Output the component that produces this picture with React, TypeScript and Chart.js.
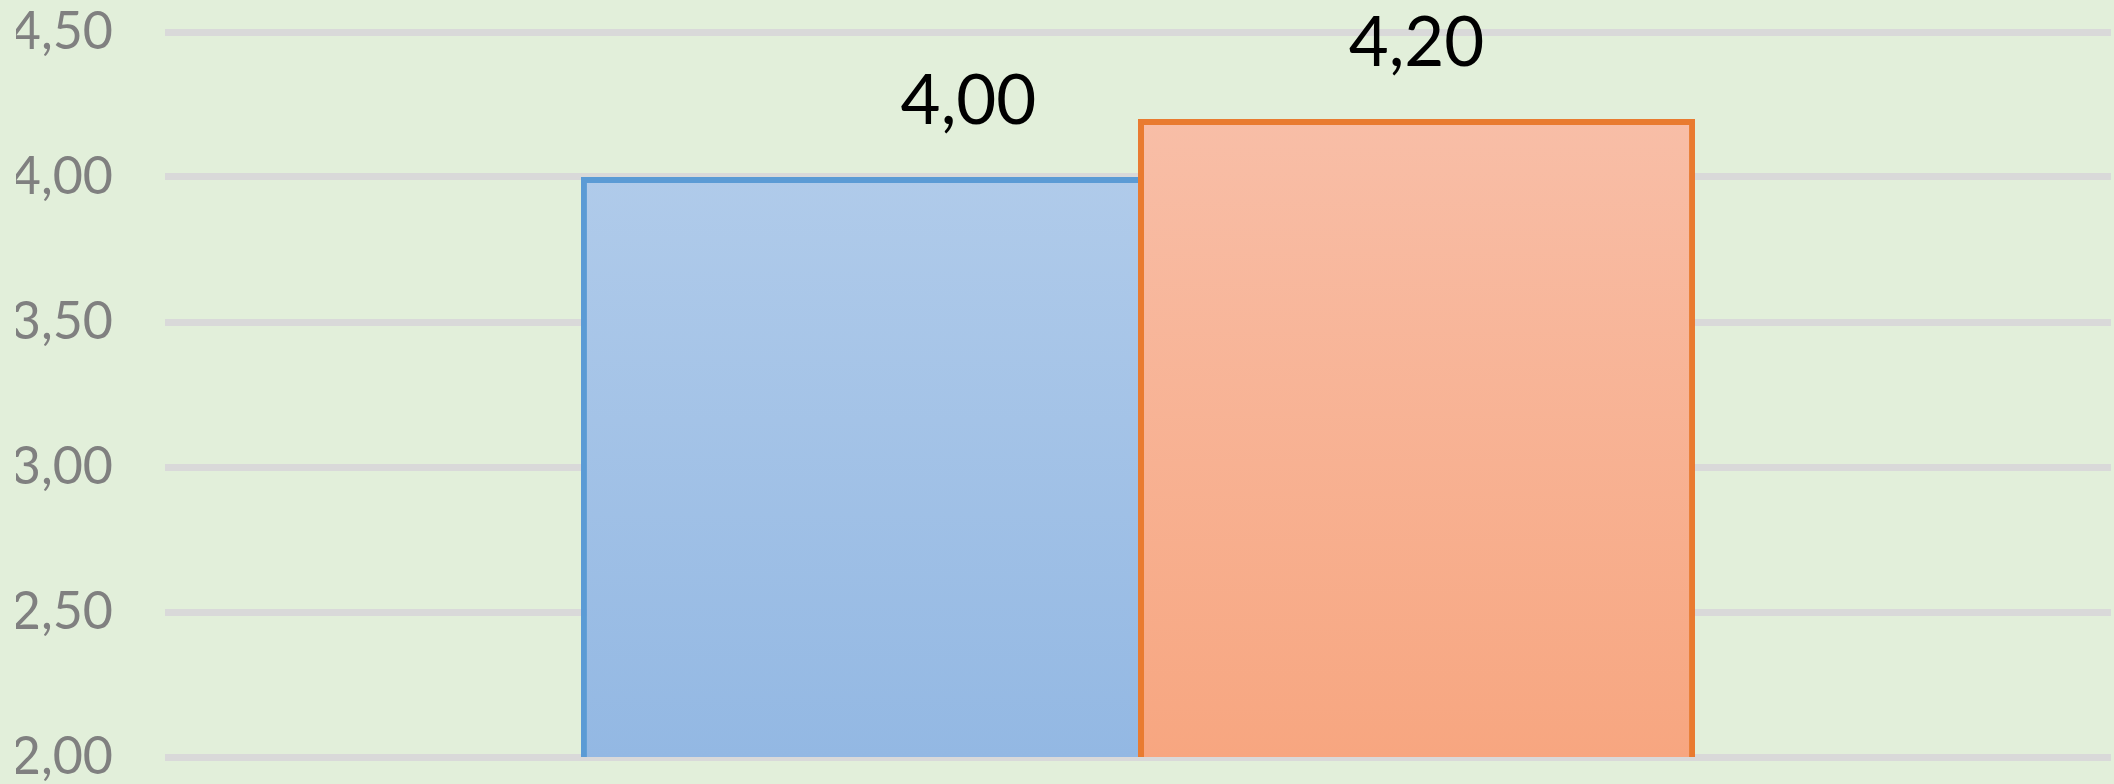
import React, { useEffect, useRef } from "react";
import { Chart, registerables } from "chart.js";

Chart.register(...registerables);

const categories = [""];
const seriesNames = ["Série 1", "Série 2"];
const seriesValues = [[4.0], [4.2]];
const yMin = 2;
const yMax = 4.5;
const yStep = 0.5;

const fills = [
  ["#b0cbea", "#93b8e3"],
  ["#f8bea7", "#f7a680"],
];
const borders = ["#5b9bd5", "#e97b30"];
const labelOffsetX = [109, 0];

const fmt = (v: number) => v.toFixed(2).replace(".", ",");

export default function App() {
  const ref = useRef<HTMLCanvasElement | null>(null);

  useEffect(() => {
    if (!ref.current) return;
    const gradientFor = (i: number) => (ctx: any) => {
      const chart = ctx.chart;
      const area = chart.chartArea;
      if (!area || !chart.scales.y) return fills[i][1];
      const y = chart.scales.y;
      const v = seriesValues[i][ctx.dataIndex ?? 0];
      const top = y.getPixelForValue(v);
      const bottom = y.getPixelForValue(yMin);
      const g = chart.ctx.createLinearGradient(0, top, 0, bottom);
      g.addColorStop(0, fills[i][0]);
      g.addColorStop(1, fills[i][1]);
      return g;
    };

    const labelPlugin = {
      id: "valueLabels",
      afterDatasetsDraw(chart: any) {
        const c = chart.ctx;
        c.save();
        c.font = "69px Lato";
        c.fillStyle = "#000000";
        c.textAlign = "center";
        c.textBaseline = "alphabetic";
        chart.data.datasets.forEach((ds: any, di: number) => {
          const meta = chart.getDatasetMeta(di);
          meta.data.forEach((el: any, i: number) => {
            c.fillText(fmt(ds.data[i]), el.x + labelOffsetX[di], el.y - 53);
          });
        });
        c.restore();
      },
    };

    const chart = new Chart(ref.current, {
      type: "bar",
      data: {
        labels: categories,
        datasets: seriesNames.map((name, i) => ({
          label: name,
          data: seriesValues[i],
          backgroundColor: gradientFor(i),
          borderColor: borders[i],
          borderWidth: i === 0 ? { top: 6, left: 6, bottom: 6, right: 0 } : 6,
          borderSkipped: false,
          categoryPercentage: 0.5725,
          barPercentage: 1,
        })),
      },
      options: {
        animation: false,
        responsive: false,
        maintainAspectRatio: false,
        layout: { padding: { left: 16, right: 3, top: 32, bottom: 27 } },
        plugins: {
          legend: { display: false },
          tooltip: { enabled: false },
        },
        scales: {
          x: { display: false },
          y: {
            min: yMin,
            max: yMax,
            border: { display: false },
            grid: { color: "#d9d9d9", lineWidth: 7, drawTicks: false, tickLength: 0 },
            ticks: {
              stepSize: yStep,
              padding: 52,
              color: "#808080",
              font: { family: "Lato", size: 52 },
              callback: (v: any) => fmt(Number(v)),
            },
            afterFit: (s: any) => {
              s.width = 149;
              s.paddingTop = 0;
              s.paddingBottom = 0;
            },
          },
        },
      },
      plugins: [labelPlugin],
    });
    return () => chart.destroy();
  }, []);

  return (
    <div
      style={{
        position: "fixed",
        left: 0,
        top: 0,
        width: 2114,
        height: 784,
        background: "#e2efda",
      }}
    >
      <canvas ref={ref} width={2114} height={784} style={{ display: "block" }} />
    </div>
  );
}
